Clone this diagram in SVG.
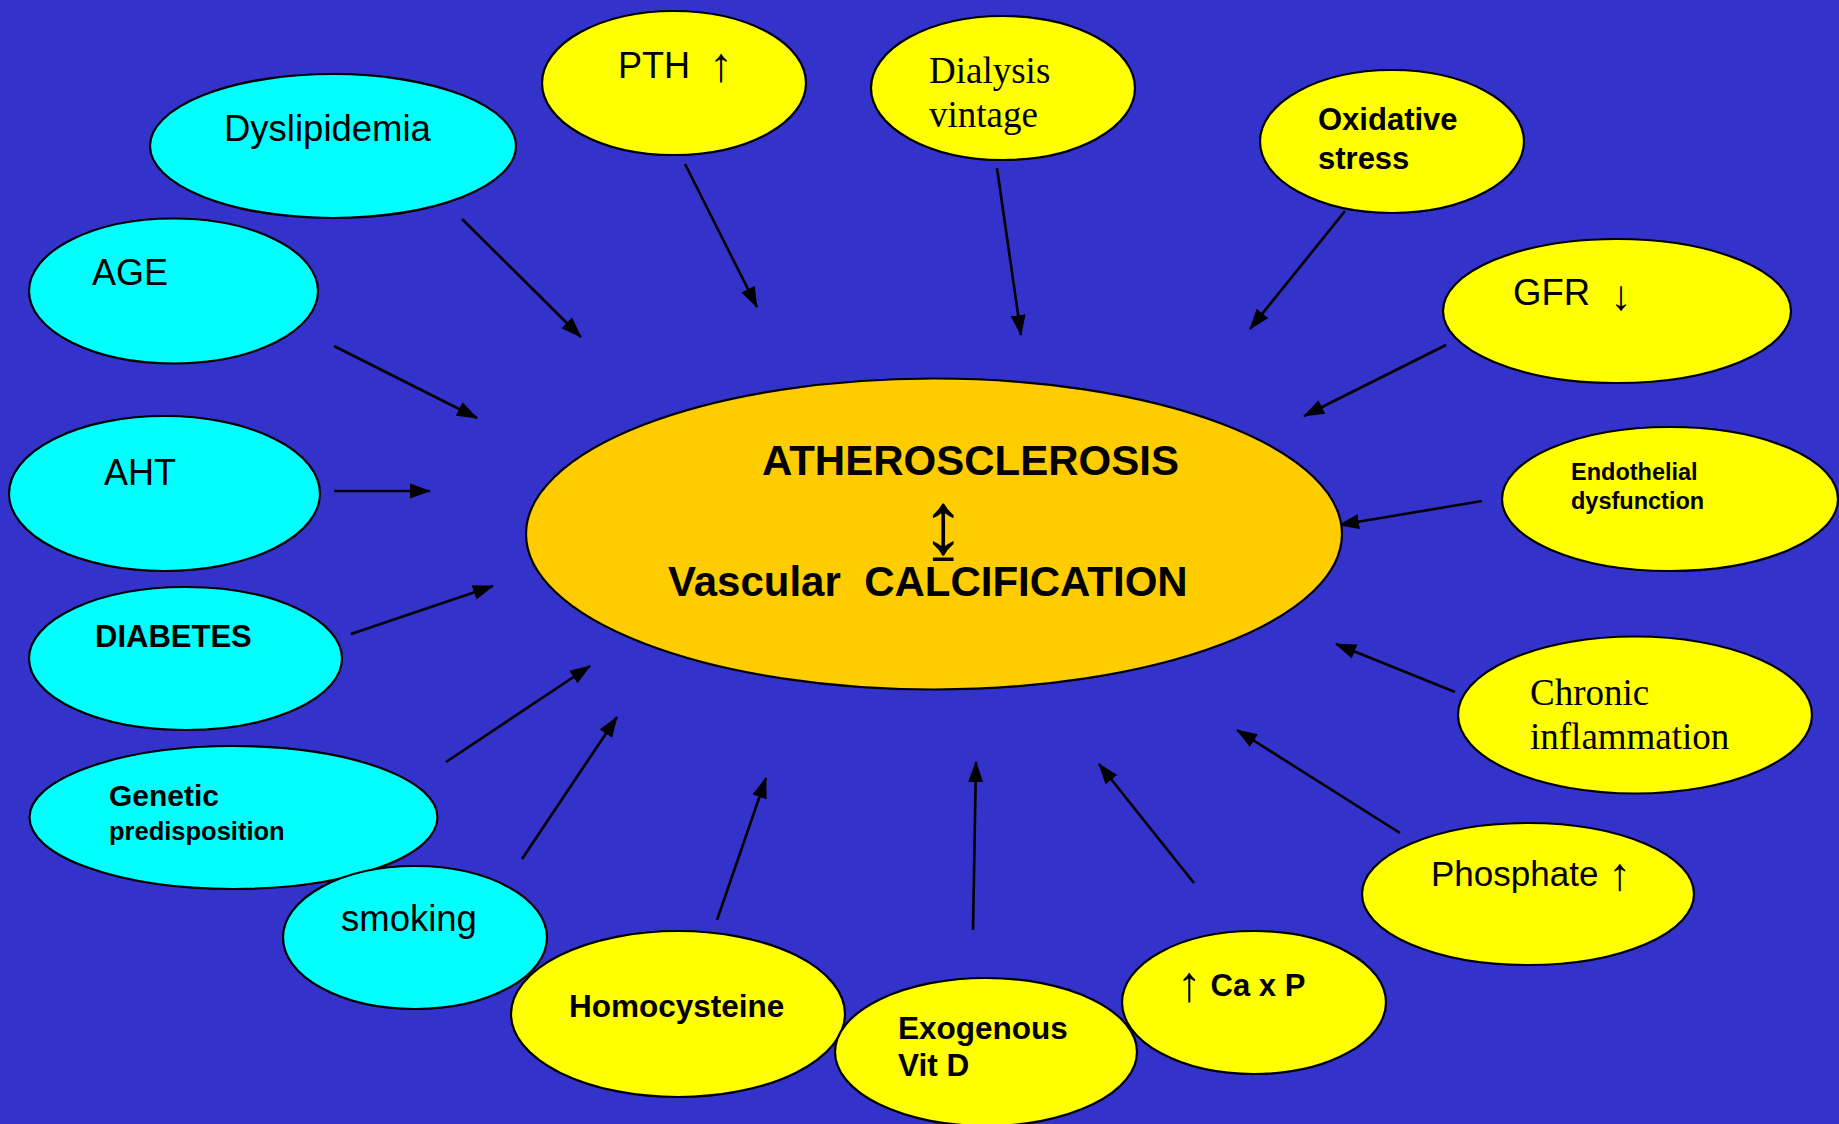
<svg xmlns="http://www.w3.org/2000/svg" width="1839" height="1124" viewBox="0 0 1839 1124">
<style>
.c{fill:#00FFFF;stroke:#000;stroke-width:2.2}
.y{fill:#FFFF00;stroke:#000;stroke-width:2.2}
.o{fill:#FFCC00;stroke:#000;stroke-width:2.2}
.s{font-family:"Liberation Sans",Arial,sans-serif;fill:#000}
.b{font-family:"Liberation Sans",Arial,sans-serif;font-weight:bold;fill:#000}
.r{font-family:"Liberation Serif","Times New Roman",serif;fill:#000}
.n{font-weight:normal}
.a{stroke:#000;stroke-width:2.6;fill:none;marker-end:url(#ah)}
</style>
<defs>
<marker id="ah" markerUnits="userSpaceOnUse" markerWidth="21" markerHeight="16" viewBox="0 0 21 15" refX="20" refY="7.5" orient="auto">
<path d="M0,0 L21,7.5 L0,15 Z" fill="#000"/>
</marker>
</defs>
<rect width="1839" height="1124" fill="#3333CC"/>

<g id="connectors">
<line class="a" x1="462" y1="219" x2="581" y2="337"/>
<line class="a" x1="685" y1="164" x2="757" y2="307"/>
<line class="a" x1="334" y1="346" x2="477" y2="418"/>
<line class="a" x1="334" y1="491" x2="430" y2="491"/>
<line class="a" x1="997" y1="168" x2="1021" y2="335"/>
<line class="a" x1="1345" y1="211" x2="1250" y2="329"/>
<line class="a" x1="1446" y1="345" x2="1304" y2="416"/>
<line class="a" x1="1482" y1="501" x2="1339" y2="525"/>
<line class="a" x1="351" y1="634" x2="493" y2="586"/>
<line class="a" x1="446" y1="762" x2="590" y2="666"/>
<line class="a" x1="522" y1="859" x2="617" y2="717"/>
<line class="a" x1="717" y1="920" x2="766" y2="778"/>
<line class="a" x1="973" y1="930" x2="976" y2="762"/>
<line class="a" x1="1194" y1="883" x2="1099" y2="764"/>
<line class="a" x1="1400" y1="833" x2="1237" y2="730"/>
<line class="a" x1="1455" y1="692" x2="1336" y2="644"/>
</g>

<g id="center">
<ellipse class="o" cx="934" cy="534" rx="408" ry="155.5"/>
<text class="b" x="762" y="475" font-size="42">ATHEROSCLEROSIS</text>
<text class="s" x="943" y="553" font-size="88" text-anchor="middle">↨</text>
<text class="b" x="668" y="596" font-size="42" xml:space="preserve">Vascular  CALCIFICATION</text>
</g>

<g id="dyslipidemia">
<ellipse class="c" cx="333" cy="146" rx="183" ry="72"/>
<text class="s" x="224" y="141" font-size="36.5">Dyslipidemia</text>
</g>
<g id="age">
<ellipse class="c" cx="173.5" cy="291" rx="144.5" ry="72.5"/>
<text class="s" x="92" y="285" font-size="36">AGE</text>
</g>
<g id="aht">
<ellipse class="c" cx="164.5" cy="493.5" rx="155.5" ry="77.5"/>
<text class="s" x="104" y="485" font-size="36">AHT</text>
</g>
<g id="diabetes">
<ellipse class="c" cx="185.5" cy="658.5" rx="156.5" ry="71.5"/>
<text class="b" x="95" y="647" font-size="31">DIABETES</text>
</g>
<g id="genetic">
<ellipse class="c" cx="233.5" cy="817.5" rx="204" ry="71.5"/>
<text class="b" x="109" y="806" font-size="30">Genetic</text>
<text class="b" x="109" y="840" font-size="25.5">predisposition</text>
</g>
<g id="smoking">
<ellipse class="c" cx="415" cy="937.5" rx="132" ry="71.5"/>
<text class="s" x="341" y="931" font-size="36.5">smoking</text>
</g>
<g id="homocysteine">
<ellipse class="y" cx="678" cy="1014" rx="167" ry="83"/>
<text class="b" x="569" y="1017" font-size="31.5">Homocysteine</text>
</g>
<g id="exogenous">
<ellipse class="y" cx="986" cy="1052" rx="151" ry="74"/>
<text class="b" x="898" y="1039" font-size="31.5">Exogenous</text>
<text class="b" x="898" y="1076" font-size="31.5">Vit D</text>
</g>
<g id="caxp">
<ellipse class="y" cx="1254" cy="1002.5" rx="132" ry="71.5"/>
<text class="b" x="1177" y="996" font-size="31"><tspan class="n" font-size="50" dy="5">↑</tspan><tspan dy="-5"> Ca x P</tspan></text>
</g>
<g id="phosphate">
<ellipse class="y" cx="1528" cy="894" rx="166" ry="71"/>
<text class="s" x="1431" y="886" font-size="35">Phosphate <tspan font-size="46" dy="4">↑</tspan></text>
</g>
<g id="chronic">
<ellipse class="y" cx="1635" cy="715" rx="177" ry="78.5"/>
<text class="r" x="1530" y="705" font-size="37">Chronic</text>
<text class="r" x="1530" y="749" font-size="37">inflammation</text>
</g>
<g id="endothelial">
<ellipse class="y" cx="1670" cy="499" rx="168" ry="72"/>
<text class="b" x="1571" y="480" font-size="23.5">Endothelial</text>
<text class="b" x="1571" y="509" font-size="23.5">dysfunction</text>
</g>
<g id="gfr">
<ellipse class="y" cx="1617" cy="311" rx="174" ry="72"/>
<text class="s" x="1513" y="305" font-size="36.5">GFR <tspan font-size="42" dx="10" dy="4.5">↓</tspan></text>
</g>
<g id="oxidative">
<ellipse class="y" cx="1392" cy="141.5" rx="132" ry="71.5"/>
<text class="b" x="1318" y="130" font-size="31">Oxidative</text>
<text class="b" x="1318" y="168.5" font-size="31">stress</text>
</g>
<g id="dialysis">
<ellipse class="y" cx="1003" cy="88" rx="132" ry="72"/>
<text class="r" x="929" y="83" font-size="37">Dialysis</text>
<text class="r" x="929" y="127" font-size="37">vintage</text>
</g>
<g id="pth">
<ellipse class="y" cx="674" cy="83" rx="132" ry="72"/>
<text class="s" x="618" y="78" font-size="36">PTH <tspan font-size="48" dx="9" dy="3">↑</tspan></text>
</g>
</svg>
